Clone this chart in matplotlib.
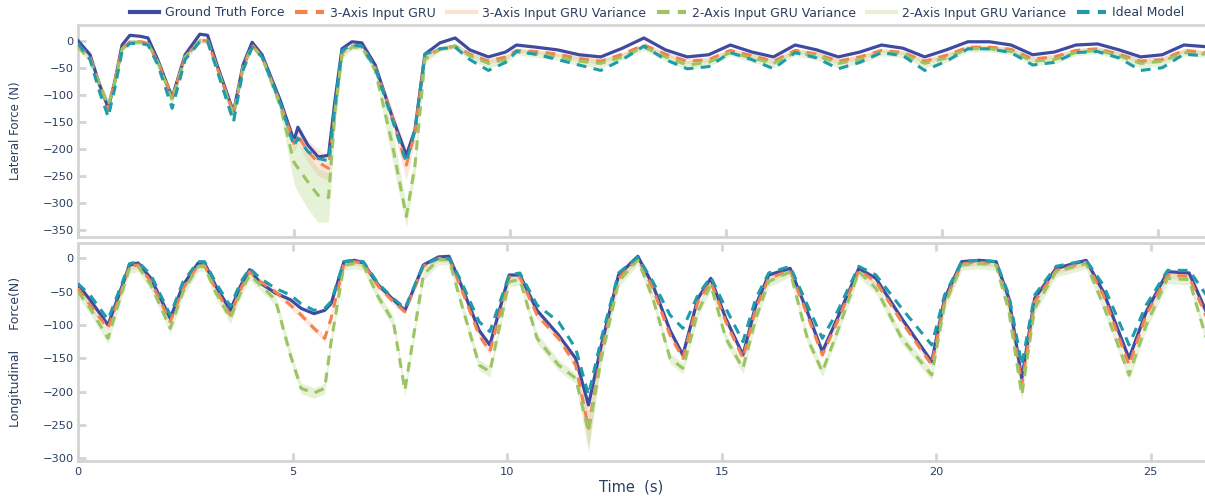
import numpy as np
import matplotlib.pyplot as plt
from matplotlib.lines import Line2D

# ---- lateral force (top panel) ----
lat_t = [0, 0.28, 0.5, 0.7, 0.86, 1.02, 1.2, 1.45, 1.62, 1.85, 2.18, 2.48, 2.82, 3.0, 3.22,
         3.6, 3.82, 4.03, 4.26, 4.68, 5.0, 5.09, 5.32, 5.56, 5.8, 5.95, 6.11, 6.34, 6.57, 6.88,
         7.27, 7.6, 7.8, 8.03, 8.38, 8.73, 9.07, 9.5, 9.9, 10.15, 10.6, 11.1, 11.6, 12.1, 12.6,
         13.1, 13.6, 14.1, 14.6, 15.1, 15.6, 16.1, 16.6, 17.1, 17.6, 18.1, 18.6, 19.1, 19.6, 20.1,
         20.6, 21.1, 21.6, 22.1, 22.6, 23.1, 23.6, 24.1, 24.6, 25.1, 25.6, 26.1, 26.8]
lat_truth = [0, -26, -82, -124, -73, -8, 10, 8, 5, -36, -105, -26, 12, 10, -45,
             -132, -45, -3, -26, -110, -185, -160, -193, -215, -212, -110, -15, -2, -4, -45,
             -140, -212, -165, -25, -4, 5, -17, -30, -21, -8, -12, -17, -26, -30, -14,
             5, -17, -30, -26, -8, -21, -30, -8, -17, -30, -21, -8, -14, -30, -17,
             -2, -2, -8, -26, -21, -8, -6, -17, -30, -26, -8, -11, -14]
lat_gru3 = [-8, -30, -80, -128, -70, -15, -2, -2, -5, -40, -105, -30, 0, 0, -50,
            -135, -50, -8, -30, -115, -190, -175, -205, -225, -236, -130, -22, -10, -10, -50,
            -140, -230, -170, -30, -15, -10, -25, -38, -30, -18, -20, -25, -33, -38, -25,
            -8, -25, -38, -35, -18, -28, -38, -18, -25, -38, -30, -18, -22, -38, -27,
            -12, -12, -16, -34, -30, -18, -15, -25, -38, -35, -18, -22, -24]
lat_gru3_sd = [4, 5, 6, 8, 6, 4, 4, 4, 4, 5, 8, 5, 4, 4, 5,
               8, 5, 4, 5, 8, 15, 15, 20, 25, 22, 15, 5, 4, 4, 5,
               15, 28, 15, 5, 4, 4, 5, 5, 5, 4, 4, 4, 5, 5, 4,
               4, 5, 5, 5, 4, 5, 5, 4, 5, 5, 5, 4, 4, 5, 5,
               4, 4, 4, 5, 5, 4, 4, 5, 5, 5, 4, 4, 4]
lat_gru2 = [-12, -35, -80, -120, -75, -15, -3, -3, -5, -40, -110, -30, 0, 0, -50,
            -138, -50, -10, -30, -120, -225, -235, -261, -286, -290, -130, -28, -12, -12, -55,
            -190, -325, -230, -35, -15, -10, -28, -42, -35, -20, -25, -30, -38, -42, -30,
            -12, -30, -45, -40, -22, -32, -42, -22, -28, -42, -35, -22, -25, -42, -32,
            -15, -15, -20, -38, -35, -22, -18, -28, -42, -38, -22, -25, -27]
lat_gru2_sd = [5, 6, 8, 12, 8, 5, 5, 5, 5, 6, 10, 6, 5, 5, 6,
               12, 6, 5, 6, 12, 40, 45, 50, 50, 45, 30, 6, 5, 5, 6,
               30, 20, 20, 6, 5, 5, 8, 8, 8, 6, 6, 6, 8, 8, 6,
               6, 8, 8, 8, 6, 8, 8, 6, 8, 8, 8, 6, 6, 8, 8,
               6, 6, 6, 8, 8, 6, 6, 8, 8, 8, 6, 6, 6]
lat_ideal = [-5, -35, -95, -141, -85, -20, -5, -5, -8, -45, -125, -35, -2, -2, -55,
             -150, -55, -12, -30, -115, -195, -180, -205, -218, -222, -120, -18, -8, -10, -50,
             -145, -225, -165, -25, -15, -12, -35, -55, -40, -20, -25, -35, -45, -55, -35,
             -10, -35, -52, -48, -22, -35, -52, -22, -32, -52, -40, -22, -28, -55, -38,
             -15, -15, -22, -45, -40, -22, -20, -32, -55, -50, -25, -28, -30]

# ---- longitudinal force (bottom panel) ----
lon_t = [0, 0.28, 0.7, 0.98, 1.2, 1.4, 1.7, 2.15, 2.45, 2.8, 2.95, 3.2, 3.55, 3.8, 4.0,
         4.25, 4.6, 4.95, 5.2, 5.5, 5.75, 5.9, 6.2, 6.45, 6.65, 7.0, 7.35, 7.62, 8.05, 8.4,
         8.65, 8.9, 9.35, 9.6, 10.05, 10.3, 10.7, 11.2, 11.6, 11.9, 12.2, 12.6, 13.05, 13.4, 13.8,
         14.1, 14.45, 14.75, 15.1, 15.5, 15.8, 16.1, 16.6, 17.0, 17.35, 17.7, 18.2, 18.6, 19.2, 19.9,
         20.2, 20.6, 21.0, 21.4, 21.7, 22.0, 22.3, 22.8, 23.5, 23.9, 24.5, 24.9, 25.4, 25.9, 26.3,
         26.8]
lon_truth = [-40, -62, -100, -50, -10, -7, -30, -90, -40, -7, -7, -40, -78, -40, -17,
             -37, -52, -62, -75, -83, -78, -68, -5, -3, -7, -40, -62, -78, -10, 2,
             3, -35, -108, -130, -25, -25, -78, -115, -150, -220, -130, -25, 3, -40, -108,
             -145, -60, -30, -90, -145, -70, -25, -15, -80, -140, -90, -15, -30, -90, -155,
             -60, -5, -3, -5, -60, -180, -60, -15, -3, -50, -150, -80, -20, -22, -80,
             -110]
lon_gru3 = [-45, -70, -105, -55, -12, -10, -35, -95, -45, -10, -10, -45, -85, -45, -20,
            -35, -50, -70, -85, -105, -120, -90, -8, -5, -8, -42, -65, -80, -12, 0,
            0, -40, -115, -140, -28, -28, -85, -120, -160, -255, -140, -30, 0, -45, -115,
            -150, -65, -35, -95, -150, -75, -30, -18, -85, -145, -95, -18, -35, -95, -160,
            -65, -8, -6, -8, -65, -190, -65, -18, -6, -55, -160, -85, -25, -27, -88,
            -115]
lon_gru3_sd = [5] * 39 + [30] + [5] * 36
lon_gru2 = [-50, -75, -120, -60, -15, -12, -40, -105, -50, -12, -12, -50, -90, -50, -25,
            -40, -62, -145, -195, -202, -195, -125, -10, -8, -10, -58, -95, -198, -25, -2,
            -2, -60, -160, -170, -35, -32, -120, -160, -180, -260, -150, -35, -2, -60, -150,
            -165, -80, -40, -120, -165, -90, -35, -20, -120, -170, -110, -20, -45, -120, -175,
            -70, -10, -8, -10, -80, -205, -75, -20, -8, -70, -175, -100, -30, -32, -120,
            -150]
lon_gru2_sd = [8] * 39 + [30] + [8] * 36
lon_ideal = [-38, -55, -92, -45, -8, -5, -25, -85, -35, -5, -5, -35, -72, -35, -15,
             -30, -45, -55, -68, -78, -75, -65, -5, -3, -5, -38, -60, -75, -10, 0,
             0, -30, -95, -110, -25, -22, -70, -95, -135, -205, -120, -22, 2, -35, -85,
             -105, -55, -28, -75, -125, -60, -22, -12, -70, -120, -80, -12, -25, -75, -130,
             -55, -5, -3, -5, -55, -160, -55, -12, -3, -40, -130, -70, -18, -18, -55,
             -85]

names = ['Ground Truth Force', '3-Axis Input GRU', '3-Axis Input GRU Variance',
         '2-Axis Input GRU Variance', '2-Axis Input GRU Variance', 'Ideal Model']

c_truth = '#3f4aa1'
c_gru3 = '#f5824c'
c_band3 = (0.98, 0.72, 0.6, 0.35)
c_gru2 = '#9cc562'
c_band2 = (0.68, 0.83, 0.5, 0.3)
c_ideal = '#1f9bab'
c_text = '#2a3f5f'
c_axis = '#d4d4d4'
DASH = (3.2, 2.4)

plt.rcParams['font.family'] = 'DejaVu Sans'

fig = plt.figure(figsize=(12.05, 4.96), dpi=100)
W, H = 1205, 496
ax1 = fig.add_axes([78 / W, 1 - 237 / H, 1158 / W, 212 / H])
ax2 = fig.add_axes([78 / W, 35 / H, 1158 / W, 218 / H])


def draw(ax, t, truth, g3, g3sd, g2, g2sd, ideal):
    t = np.array(t)
    g3 = np.array(g3); g3sd = np.array(g3sd)
    g2 = np.array(g2); g2sd = np.array(g2sd)
    ax.plot(t, truth, color=c_truth, lw=2.3, solid_joinstyle='round', zorder=3)
    ax.plot(t, g3, color=c_gru3, lw=2.2, dashes=DASH, zorder=4)
    ax.fill_between(t, g3 - g3sd, g3 + g3sd, color=c_band3, lw=0, zorder=2)
    ax.plot(t, g2, color=c_gru2, lw=2.2, dashes=DASH, zorder=5)
    ax.fill_between(t, g2 - g2sd, g2 + g2sd, color=c_band2, lw=0, zorder=2)
    ax.plot(t, ideal, color=c_ideal, lw=2.2, dashes=DASH, zorder=6)


draw(ax1, lat_t, lat_truth, lat_gru3, lat_gru3_sd, lat_gru2, lat_gru2_sd, lat_ideal)
draw(ax2, lon_t, lon_truth, lon_gru3, lon_gru3_sd, lon_gru2, lon_gru2_sd, lon_ideal)

ax1.set_xlim(0, 1158 / 43.2)
ax2.set_xlim(0, 1158 / 42.9)
ax1.set_ylim(-363, 29)
ax2.set_ylim(-304, 23)
ax1.set_yticks(range(-350, 1, 50))
ax2.set_yticks(range(-300, 1, 50))
for ax in (ax1, ax2):
    ax.set_xticks(range(0, 30, 5))
    for s in ax.spines.values():
        s.set_color(c_axis)
        s.set_linewidth(2)
    ax.tick_params(direction='in', length=6, width=2, color=c_axis,
                   labelcolor=c_text, labelsize=8.2, pad=3)
ax1.tick_params(axis='x', labelbottom=False)
ax2.tick_params(axis='x', top=True, pad=4)

ax1.set_ylabel('Lateral Force (N)', color=c_text, fontsize=8.5,
               family=['Liberation Sans Narrow', 'DejaVu Sans'])
ax2.set_ylabel('Longitudinal     Force(N)', color=c_text, fontsize=9,
               family=['Liberation Sans Narrow', 'DejaVu Sans'])
ax2.set_xlabel('Time  (s)', color=c_text, fontsize=10.5)
ax1.yaxis.set_label_coords((22 - 78) / 1158, 0.5)
ax2.yaxis.set_label_coords((22 - 78) / 1158, 0.5)
ax2.xaxis.set_label_coords((631 - 78) / 1158, -0.085)

handles = [
    Line2D([], [], color=c_truth, lw=3),
    Line2D([], [], color=c_gru3, lw=3, dashes=(3, 2)),
    Line2D([], [], color='#fde1d2', lw=3),
    Line2D([], [], color=c_gru2, lw=3, dashes=(3, 2)),
    Line2D([], [], color='#e6f1d8', lw=3),
    Line2D([], [], color=c_ideal, lw=3, dashes=(3, 2)),
]
fig.legend(handles, names, loc='center', bbox_to_anchor=(657 / W, 1 - 13 / H), ncol=6,
           frameon=False, fontsize=9, labelcolor=c_text, handlelength=2.3,
           handletextpad=0.48, columnspacing=0.9, borderaxespad=0)

fig.savefig('out.png', dpi=100)
